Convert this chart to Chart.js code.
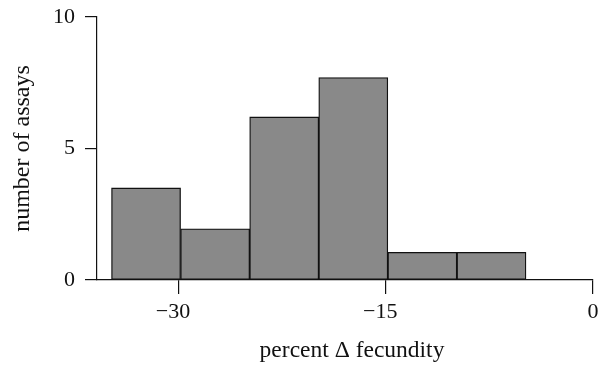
<!DOCTYPE html>
<html>
<head>
<meta charset="utf-8">
<script src="https://cdn.jsdelivr.net/npm/chart.js"></script>
<style>
  html, body { margin: 0; padding: 0; background: #fff; }
  #wrap { width: 604px; height: 365px; }
</style>
</head>
<body>
<div id="wrap"><canvas id="histChart"></canvas></div>
<script>
// histogram bins, 5 units wide (centres)
const binCenters = [-32.35, -27.35, -22.35, -17.35, -12.35, -7.35];
const assayCounts = [3.5, 1.95, 6.2, 7.7, 1.05, 1.05];
const xTicks = [-30, -15, 0];
const yTicks = [0, 5, 10];
const xLabel = 'percent Δ fecundity';
const yLabel = 'number of assays';

const serif = '"Liberation Serif", "DejaVu Serif", serif';
const ink = '#111';

// x title is drawn by hand so it can sit a little right of centre like the original
const xTitlePlugin = {
  id: 'xTitle',
  afterDraw(chart) {
    const { ctx, chartArea } = chart;
    ctx.save();
    ctx.font = '23.5px ' + serif;
    ctx.fillStyle = ink;
    ctx.textAlign = 'center';
    ctx.textBaseline = 'alphabetic';
    ctx.fillText(xLabel, (chartArea.left + chartArea.right) / 2 + 7, 357);
    ctx.restore();
  }
};

new Chart(document.getElementById('histChart'), {
  type: 'bar',
  data: {
    datasets: [{
      data: binCenters.map((x, i) => ({ x: x, y: assayCounts[i] })),
      backgroundColor: '#898989',
      borderColor: ink,
      borderWidth: 1.3,
      borderSkipped: false,
      barPercentage: 1,
      categoryPercentage: 1
    }]
  },
  options: {
    responsive: true,
    maintainAspectRatio: false,
    animation: false,
    layout: { padding: { left: 0, top: 17, right: 11, bottom: 0 } },
    plugins: { legend: { display: false }, tooltip: { enabled: false } },
    scales: {
      x: {
        type: 'linear',
        offset: false,
        min: -35.9,
        max: 0,
        afterBuildTicks: s => { s.ticks = xTicks.map(v => ({ value: v })); },
        afterFit: s => { s.height = 85; s.paddingLeft = 0; s.paddingRight = 0; },
        grid: { display: true, offset: false, drawOnChartArea: false, drawTicks: true, tickLength: 14, color: ink, lineWidth: 1.2 },
        border: { display: true, color: ink, width: 1.2 },
        ticks: {
          font: { family: serif, size: 22 },
          color: ink,
          padding: 5,
          maxRotation: 0,
          // centre the digits under the tick, minus hangs to the left
          callback: v => v < 0 ? '\u2212' + Math.abs(v) + '\u2002' : String(v)
        },
        title: { display: false }
      },
      y: {
        min: 0,
        max: 10,
        afterBuildTicks: s => { s.ticks = yTicks.map(v => ({ value: v })); },
        afterFit: s => { s.width = 97; s.paddingTop = 0; s.paddingBottom = 0; },
        grid: { display: true, drawOnChartArea: false, drawTicks: true, tickLength: 12, color: ink, lineWidth: 1.2 },
        border: { display: true, color: ink, width: 1.2 },
        ticks: {
          font: { family: serif, size: 22 },
          color: ink,
          padding: 10
        },
        title: {
          display: true,
          text: yLabel,
          font: { family: serif, size: 24 },
          color: ink,
          padding: { top: 8, bottom: 0 }
        }
      }
    }
  },
  plugins: [xTitlePlugin]
});
</script>
</body>
</html>
